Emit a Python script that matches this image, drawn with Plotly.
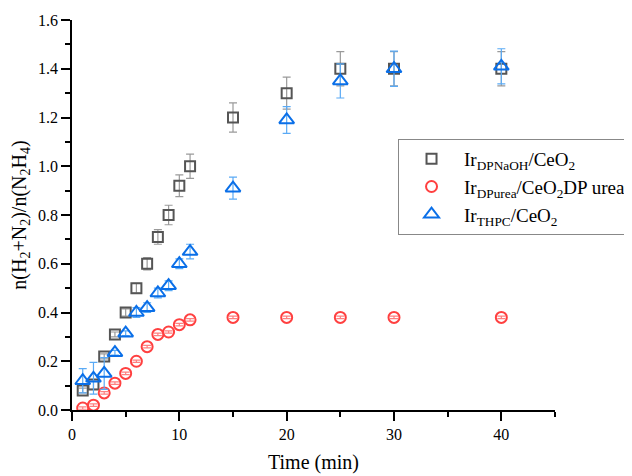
import plotly.graph_objects as go

time = [1, 2, 3, 4, 5, 6, 7, 8, 9, 10, 11, 15, 20, 25, 30, 40]

naoh_y = [0.08, 0.105, 0.22, 0.31, 0.40, 0.50, 0.60, 0.71, 0.80, 0.92, 1.00, 1.20, 1.30, 1.40, 1.40, 1.40]
naoh_err = [0.01, 0.02, 0.01, 0.01, 0.015, 0.02, 0.025, 0.03, 0.04, 0.045, 0.05, 0.06, 0.066, 0.07, 0.07, 0.07]

urea_y = [0.008, 0.02, 0.07, 0.11, 0.15, 0.20, 0.26, 0.31, 0.32, 0.35, 0.37, 0.38, 0.38, 0.38, 0.38, 0.38]
urea_err = [0.005, 0.005, 0.005, 0.005, 0.005, 0.005, 0.005, 0.005, 0.005, 0.005, 0.005, 0.005, 0.005, 0.005, 0.005, 0.005]

thpc_y = [0.12, 0.13, 0.15, 0.235, 0.315, 0.40, 0.42, 0.48, 0.51, 0.60, 0.65, 0.91, 1.19, 1.35, 1.40, 1.41]
thpc_err = [0.05, 0.065, 0.065, 0.01, 0.01, 0.02, 0.02, 0.02, 0.02, 0.02, 0.03, 0.045, 0.055, 0.07, 0.072, 0.072]

names = ["Ir<sub>DPNaOH</sub>/CeO<sub>2</sub>",
         "Ir<sub>DPurea</sub>/CeO<sub>2</sub>DP urea",
         "Ir<sub>THPC</sub>/CeO<sub>2</sub>"]

FONT = "Liberation Serif"

fig = go.Figure()
fig.add_trace(go.Scatter(
    x=time, y=naoh_y, mode="markers", name=names[0],
    marker=dict(symbol="square-open", size=10, color="#555555", line=dict(width=2, color="#555555")),
    error_y=dict(type="data", array=naoh_err, visible=True, color="#9a9a9a", thickness=1.2, width=4),
))
fig.add_trace(go.Scatter(
    x=time, y=urea_y, mode="markers", name=names[1],
    marker=dict(symbol="circle-open", size=11, color="#ff4040", line=dict(width=2, color="#ff4040")),
    error_y=dict(type="data", array=urea_err, visible=True, color="#ff8080", thickness=1.2, width=4),
))
fig.add_trace(go.Scatter(
    x=time, y=thpc_y, mode="markers", name=names[2],
    marker=dict(symbol="triangle-up-open", size=13, color="#0a6fe8", line=dict(width=2, color="#0a6fe8")),
    error_y=dict(type="data", array=thpc_err, visible=True, color="#5aaaf5", thickness=1.2, width=4),
))

axis_common = dict(
    showline=True, linecolor="black", linewidth=1.5, mirror=False,
    showgrid=False, zeroline=False, ticks="outside", ticklen=9, tickwidth=1.5,
    tickcolor="black", tickfont=dict(family=FONT, size=16, color="black"),
)

fig.update_xaxes(
    range=[0, 45], tick0=0, dtick=10, **axis_common,
    minor=dict(dtick=5, ticks="outside", ticklen=5, tickwidth=1.5, tickcolor="black"),
    title=dict(text="Time (min)", font=dict(family=FONT, size=20, color="black"), standoff=13),
)
fig.update_yaxes(
    range=[0, 1.6], tick0=0, dtick=0.2, tickformat=".1f", **axis_common,
    minor=dict(dtick=0.1, ticks="outside", ticklen=5, tickwidth=1.5, tickcolor="black"),
    title=dict(text="n(H<sub>2</sub>+N<sub>2</sub>)/n(N<sub>2</sub>H<sub>4</sub>)",
               font=dict(family=FONT, size=20, color="black"), standoff=6),
)

fig.update_layout(
    width=632, height=476,
    margin=dict(l=64, r=85, t=12, b=74, autoexpand=False),
    paper_bgcolor="white", plot_bgcolor="white",
    font=dict(family=FONT, color="black"),
    legend=dict(
        x=0.675, y=0.695, xanchor="left", yanchor="top",
        bgcolor="white", bordercolor="#888888", borderwidth=1,
        font=dict(family=FONT, size=19, color="black"),
        itemwidth=55,
    ),
    showlegend=True,
)

fig.write_html("out.html")
